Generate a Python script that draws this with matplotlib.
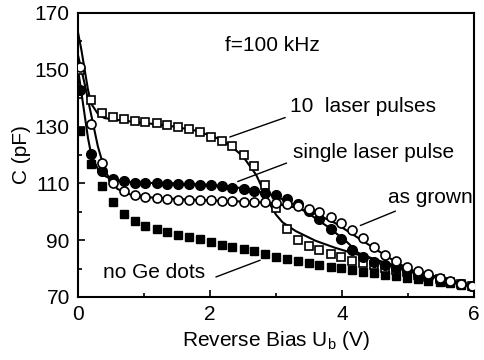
import matplotlib
matplotlib.use("Agg")
import matplotlib.pyplot as plt
from matplotlib.ticker import MultipleLocator

plt.rcParams['font.family'] = ['Liberation Sans', 'DejaVu Sans']
plt.rcParams['mathtext.fontset'] = 'custom'
plt.rcParams['mathtext.rm'] = 'Liberation Sans'

# reverse bias (V) of the measured points
bias = [0.03, 0.20, 0.36, 0.53, 0.69, 0.86, 1.02, 1.19, 1.35, 1.52, 1.68, 1.85,
        2.01, 2.18, 2.34, 2.51, 2.67, 2.84, 3.00, 3.17, 3.33, 3.50, 3.66, 3.83,
        3.99, 4.16, 4.32, 4.49, 4.65, 4.82, 4.98, 5.15, 5.31, 5.48, 5.64, 5.81, 5.97]

# capacitance (pF)
c_10pulses = [150.0, 139.5, 134.8, 133.2, 132.6, 132.1, 131.6, 131.1, 130.5, 129.9, 129.2, 128.0,
              126.5, 125.0, 123.0, 120.0, 116.0, 109.5, 101.5, 94.0, 90.0, 87.9, 86.5, 85.1,
              84.0, 82.8, 82.0, 81.2, 80.3, 79.5, 78.7, 77.8, 77.0, 76.2, 75.4, 74.6, 73.8]
c_single = [143.0, 120.5, 114.2, 111.6, 110.7, 110.3, 110.1, 110.0, 109.9, 109.8, 109.7, 109.5,
            109.3, 109.0, 108.5, 107.9, 107.3, 106.6, 105.8, 104.5, 102.8, 100.3, 97.3, 94.0,
            90.3, 86.6, 84.0, 82.4, 81.2, 80.1, 79.1, 78.1, 77.2, 76.3, 75.4, 74.6, 73.8]
c_grown = [151.0, 131.0, 117.3, 110.0, 107.3, 105.8, 105.1, 104.7, 104.5, 104.3, 104.2, 104.1,
           104.0, 103.9, 103.7, 103.6, 103.5, 103.4, 103.2, 102.8, 102.2, 101.0, 99.8, 98.2,
           96.0, 93.7, 90.6, 87.5, 84.8, 82.6, 80.7, 79.3, 78.0, 76.8, 75.7, 74.7, 73.8]
c_nodots = [128.5, 117.0, 109.0, 103.3, 99.2, 96.6, 95.0, 93.8, 93.0, 91.9, 91.1, 90.3,
            89.2, 88.3, 87.6, 86.8, 86.1, 85.0, 84.2, 83.5, 82.8, 82.0, 81.4, 80.7,
            80.1, 79.5, 78.9, 78.3, 77.8, 77.3, 76.8, 76.3, 75.8, 75.3, 74.8, 74.3, 73.9]

# fit curves
fit10_v = [0.0, 0.05, 0.1, 0.15, 0.2, 0.3, 0.4, 0.6, 0.8, 1.0, 1.4, 1.8, 2.1, 2.3, 2.5,
           2.7, 2.9, 3.0, 3.1, 3.3, 3.6, 3.9, 4.2, 4.6, 5.0, 5.5, 6.0]
fit10_c = [163.0, 157.0, 150.0, 143.0, 138.0, 134.5, 133.0, 132.3, 131.8, 131.3, 130.2, 128.5,
           126.0, 123.5, 119.5, 113.0, 103.0, 99.0, 96.3, 93.2, 89.8, 87.3, 85.2, 82.5, 79.8, 76.8, 73.5]
fit1_v = [0.0, 0.05, 0.1, 0.15, 0.2, 0.3, 0.4, 0.5, 0.7, 1.0, 1.5, 2.0, 2.5, 2.9, 3.2,
          3.5, 3.8, 4.07, 4.25, 4.6, 5.0, 5.5, 6.0]
fit1_c = [150.0, 142.0, 134.0, 126.0, 120.0, 115.0, 112.7, 111.5, 110.6, 110.2, 110.0, 109.5,
          108.3, 106.2, 103.5, 99.3, 94.5, 89.5, 85.5, 82.3, 79.6, 76.5, 73.5]
fitg_v = [0.0, 0.05, 0.1, 0.2, 0.3, 0.4, 0.5, 0.6, 0.8, 1.0, 1.5, 2.0, 2.5, 2.9, 3.3,
          3.6, 3.9, 4.2, 4.5, 4.73, 5.08, 5.5, 6.0]
fitg_c = [155.0, 150.0, 145.0, 134.0, 123.0, 115.0, 110.5, 108.0, 106.0, 105.2, 104.5, 104.0,
          103.6, 103.2, 101.5, 99.3, 96.0, 91.5, 87.0, 83.6, 78.9, 76.3, 73.5]

y_ticks = [70, 90, 110, 130, 150, 170]
x_ticks = [0, 2, 4, 6]

fig = plt.figure(figsize=(4.85, 3.6), dpi=100)
ax = fig.add_axes([0.161, 0.175, 0.816, 0.789])

ax.plot(fit10_v, fit10_c, color='black', lw=1.5, zorder=2)
ax.plot(fit1_v, fit1_c, color='black', lw=1.5, zorder=2)
ax.plot(fitg_v, fitg_c, color='black', lw=1.5, zorder=2)

ax.plot(bias, c_nodots, 's', color='black', ms=6, zorder=3)
ax.plot(bias, c_10pulses, 's', mfc='white', mec='black', mew=1.2, ms=6, zorder=3)
ax.plot(bias, c_single, 'o', color='black', ms=7, zorder=3)
ax.plot(bias, c_grown, 'o', mfc='white', mec='black', mew=1.2, ms=6.5, zorder=4)

ax.set_xlim(0, 6)
ax.set_ylim(70, 170)
ax.set_xticks(x_ticks)
ax.set_yticks(y_ticks)
ax.xaxis.set_minor_locator(MultipleLocator(1))
ax.yaxis.set_minor_locator(MultipleLocator(10))
ax.tick_params(which='both', direction='in', top=False, right=False, labelsize=15, width=1.2)
ax.tick_params(which='major', length=5)
ax.tick_params(which='minor', length=3)
ax.tick_params(axis='x', which='major', pad=6)
ax.tick_params(axis='y', which='major', pad=6)
for s in ax.spines.values():
    s.set_linewidth(1.5)

ax.set_xlabel('Reverse Bias U$_\\mathregular{b}$ (V)', fontsize=15, labelpad=3)
ax.set_ylabel('C (pF)', fontsize=15, labelpad=3)

ax.text(2.23, 158.7, 'f=100 kHz', fontsize=15, va='center')
ax.text(3.21, 136.9, '10  laser pulses', fontsize=15, va='center')
ax.annotate('', xy=(2.26, 126.0), xytext=(3.18, 133.5),
            arrowprops=dict(arrowstyle='-', lw=1, color='black'))
ax.text(3.26, 120.7, 'single laser pulse', fontsize=15, va='center')
ax.annotate('', xy=(2.38, 110.3), xytext=(3.2, 117.5),
            arrowprops=dict(arrowstyle='-', lw=1, color='black'))
ax.text(4.7, 105.2, 'as grown', fontsize=15, va='center')
ax.annotate('', xy=(4.24, 94.8), xytext=(4.85, 100.6),
            arrowprops=dict(arrowstyle='-', lw=1, color='black'))
ax.text(0.38, 78.5, 'no Ge dots', fontsize=15, va='center')
ax.annotate('', xy=(2.8, 83.3), xytext=(2.05, 76.7),
            arrowprops=dict(arrowstyle='-', lw=1, color='black'))

fig.savefig('out.png', dpi=100)
